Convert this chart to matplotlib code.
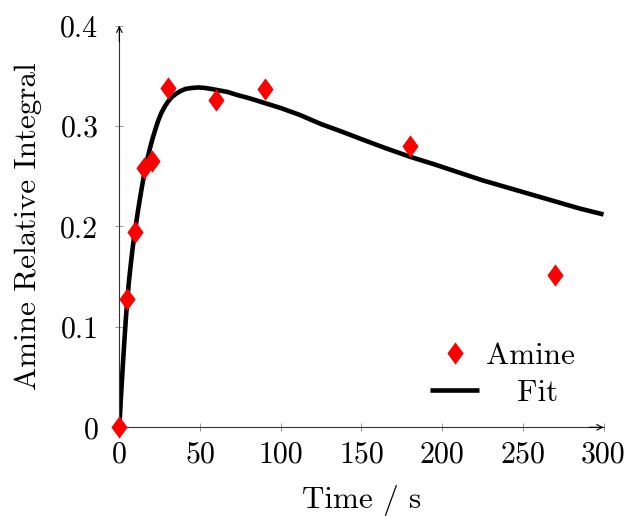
import matplotlib.pyplot as plt
import numpy as np

plt.rcParams['font.family'] = ['cmr10', 'DejaVu Serif']
plt.rcParams['axes.formatter.use_mathtext'] = True

# measured amine integrals
t_data = [0, 5, 10, 15, 20, 30, 60, 90, 180, 270]
amine = [0.0, 0.128, 0.195, 0.258, 0.265, 0.338, 0.326, 0.337, 0.280, 0.152]

# fit curve
t_fit = [0, 1, 2, 3, 4, 5, 6, 7, 8, 9, 10, 11.5, 13, 14.5, 16, 17.5, 19,
         20.5, 22, 24, 26, 28, 30, 32.5, 35, 38, 41, 45, 49, 53, 57, 62, 67,
         73, 80, 90, 100, 112, 125, 137, 150, 165, 180, 195, 210, 225, 240,
         255, 270, 285, 300]
y_fit = [0.0, 0.030, 0.057, 0.083, 0.107, 0.128, 0.146, 0.161, 0.175, 0.188,
         0.199, 0.215, 0.230, 0.244, 0.257, 0.268, 0.278, 0.287, 0.295, 0.305,
         0.313, 0.319, 0.324, 0.329, 0.332, 0.335, 0.337, 0.338, 0.3385,
         0.338, 0.337, 0.3355, 0.334, 0.331, 0.328, 0.323, 0.318, 0.311,
         0.302, 0.295, 0.287, 0.278, 0.2695, 0.262, 0.254, 0.246, 0.239,
         0.232, 0.225, 0.218, 0.212]

xticks = [0, 50, 100, 150, 200, 250, 300]
yticks = [0, 0.1, 0.2, 0.3, 0.4]
ytick_labels = ['0', '0.1', '0.2', '0.3', '0.4']

fs = 22.4
fs_tick = 21.5

fig = plt.figure(figsize=(6.3, 5.16), dpi=100)
ax = fig.add_axes([0.1894, 0.1719, 0.9580 - 0.1894, 0.9502 - 0.1719])

diamond = [(0, 1), (0.73, 0), (0, -1), (-0.73, 0), (0, 1)]
ax.plot(t_data, amine, linestyle='none', marker=diamond, markersize=16,
        color='red', markeredgewidth=0, label='Amine', clip_on=False, zorder=3)
ax.plot(t_fit, y_fit, color='black', lw=3.3, label='   Fit', zorder=2,
        solid_capstyle='butt', solid_joinstyle='round')

ax.set_xlim(0, 300)
ax.set_ylim(0, 0.4)
ax.set_xticks(xticks)
ax.set_xticklabels([str(v) for v in xticks])
ax.set_yticks(yticks)
ax.set_yticklabels(ytick_labels)

for s in ['top', 'right']:
    ax.spines[s].set_visible(False)
for s in ['left', 'bottom']:
    ax.spines[s].set_linewidth(0.8)
    ax.spines[s].set_color('#333333')

ax.tick_params(direction='inout', length=6, width=0.6, color='#888888',
               labelsize=fs_tick, pad=7)
ax.tick_params(axis='y', pad=12)

# arrow heads at axis ends
ax.annotate('', xy=(1.0, 0), xytext=(0.97, 0), xycoords='axes fraction',
            arrowprops=dict(arrowstyle='->', color='black', lw=0.8,
                            shrinkA=0, shrinkB=0), annotation_clip=False)
ax.annotate('', xy=(0, 1.0), xytext=(0, 0.96), xycoords='axes fraction',
            arrowprops=dict(arrowstyle='->', color='black', lw=0.8,
                            shrinkA=0, shrinkB=0), annotation_clip=False)

ax.set_xlabel('Time / s', fontsize=fs, labelpad=12)
ax.set_ylabel('Amine Relative Integral', fontsize=fs, labelpad=13)

ax.legend(loc='lower right', bbox_to_anchor=(0.972, 0.013), frameon=False,
          fontsize=fs, handlelength=1.55, borderpad=0, labelspacing=0.28,
          handletextpad=0.22)

fig.savefig('out.png', dpi=100)
